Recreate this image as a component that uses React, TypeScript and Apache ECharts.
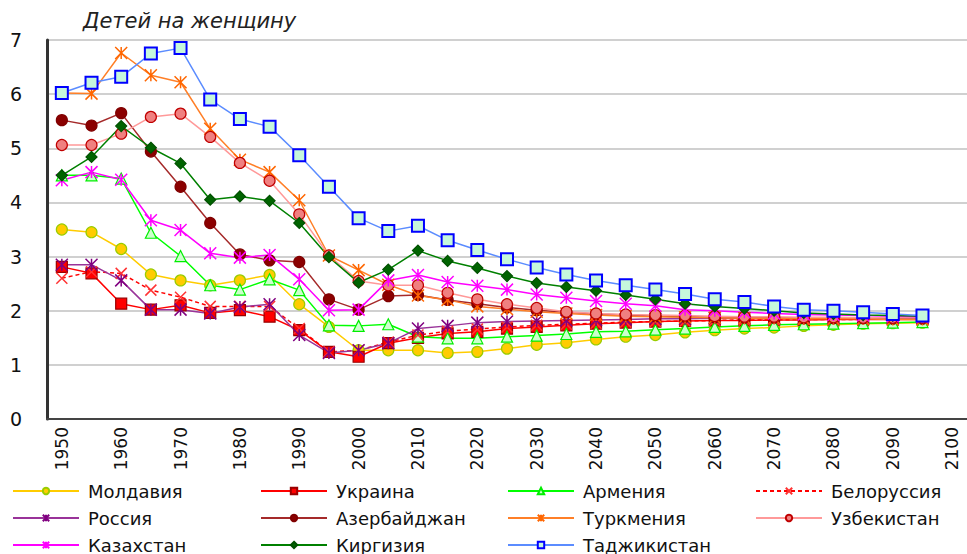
import React, { useEffect, useRef } from "react";
import * as echarts from "echarts";

const years = [
  "1950", "1955", "1960", "1965", "1970", "1975", "1980", "1985", "1990", "1995",
  "2000", "2005", "2010", "2015", "2020", "2025", "2030", "2035", "2040", "2045",
  "2050", "2055", "2060", "2065", "2070", "2075", "2080", "2085", "2090", "2095", "2100",
];

const moldova = [3.50, 3.45, 3.14, 2.67, 2.56, 2.47, 2.56, 2.66, 2.12, 1.70, 1.27, 1.27, 1.27, 1.22, 1.24, 1.30, 1.37, 1.41, 1.47, 1.52, 1.55, 1.60, 1.64, 1.67, 1.69, 1.72, 1.74, 1.76, 1.77, 1.78];
const ukraine = [2.81, 2.69, 2.13, 2.02, 2.10, 1.96, 2.01, 1.89, 1.64, 1.24, 1.15, 1.40, 1.50, 1.58, 1.61, 1.67, 1.70, 1.73, 1.76, 1.78, 1.80, 1.81, 1.82, 1.82, 1.83, 1.83, 1.84, 1.84, 1.84, 1.84];
const armenia = [4.50, 4.50, 4.44, 3.44, 3.01, 2.47, 2.39, 2.58, 2.38, 1.73, 1.72, 1.75, 1.52, 1.49, 1.49, 1.52, 1.54, 1.57, 1.61, 1.62, 1.65, 1.67, 1.70, 1.72, 1.74, 1.75, 1.76, 1.77, 1.78, 1.79];
const belarus = [2.60, 2.72, 2.69, 2.38, 2.25, 2.08, 2.08, 2.08, 1.67, 1.24, 1.27, 1.42, 1.55, 1.62, 1.66, 1.70, 1.73, 1.75, 1.77, 1.79, 1.80, 1.81, 1.82, 1.83, 1.83, 1.84, 1.84, 1.84, 1.85, 1.85];
const russia = [2.85, 2.85, 2.56, 2.02, 2.02, 1.95, 2.07, 2.12, 1.55, 1.22, 1.27, 1.40, 1.67, 1.72, 1.78, 1.80, 1.81, 1.82, 1.83, 1.84, 1.85, 1.85, 1.86, 1.86, 1.86, 1.86, 1.86, 1.86, 1.86, 1.86];
const azerbaijan = [5.52, 5.42, 5.65, 4.94, 4.29, 3.62, 3.04, 2.93, 2.90, 2.21, 2.02, 2.27, 2.29, 2.20, 2.13, 2.06, 2.01, 1.97, 1.94, 1.92, 1.90, 1.89, 1.88, 1.87, 1.87, 1.86, 1.86, 1.86, 1.85, 1.85];
const turkmenia = [6.02, 6.01, 6.76, 6.35, 6.22, 5.36, 4.79, 4.56, 4.04, 3.02, 2.75, 2.48, 2.28, 2.20, 2.08, 2.03, 1.98, 1.95, 1.92, 1.90, 1.89, 1.88, 1.87, 1.86, 1.86, 1.85, 1.85, 1.85, 1.84, 1.84];
const uzbekistan = [5.06, 5.06, 5.27, 5.58, 5.64, 5.21, 4.73, 4.40, 3.78, 3.02, 2.55, 2.47, 2.47, 2.33, 2.21, 2.12, 2.05, 1.98, 1.95, 1.93, 1.92, 1.91, 1.90, 1.89, 1.89, 1.88, 1.88, 1.87, 1.87, 1.87];
const kazakhstan = [4.41, 4.56, 4.42, 3.67, 3.49, 3.06, 2.98, 3.03, 2.58, 2.01, 2.02, 2.56, 2.66, 2.53, 2.46, 2.39, 2.30, 2.24, 2.18, 2.13, 2.09, 2.02, 2.00, 1.97, 1.95, 1.93, 1.92, 1.91, 1.90, 1.89];
const kirgizia = [4.50, 4.84, 5.41, 5.01, 4.72, 4.05, 4.11, 4.03, 3.62, 2.99, 2.52, 2.76, 3.11, 2.92, 2.79, 2.64, 2.51, 2.44, 2.37, 2.29, 2.21, 2.13, 2.08, 2.04, 2.00, 1.96, 1.94, 1.92, 1.91, 1.90];
const tajikistan = [6.02, 6.21, 6.32, 6.75, 6.85, 5.90, 5.54, 5.40, 4.87, 4.29, 3.71, 3.47, 3.57, 3.30, 3.12, 2.95, 2.80, 2.67, 2.56, 2.47, 2.39, 2.31, 2.21, 2.16, 2.08, 2.02, 2.00, 1.97, 1.94, 1.91];

const FONT = "DejaVu Sans";
const STAR = "path://M5,0L5,10M0,0L10,10M0,10L10,0";
const CROSS = "path://M0,0L10,10M0,10L10,0";

type Spec = {
  name: string;
  data: number[];
  line: string;
  symbol: string;
  fill: string;
  border: string;
  size: number;
  dashed?: boolean;
  bw?: number;
};

const specs: Spec[] = [
  { name: "Молдавия", data: moldova, line: "#FFCC00", symbol: "circle", fill: "#FFCC00", border: "#99CC00", size: 11 },
  { name: "Украина", data: ukraine, line: "#FF0000", symbol: "rect", fill: "#FF0000", border: "#990000", size: 11 },
  { name: "Армения", data: armenia, line: "#00FF00", symbol: "triangle", fill: "#CCFFCC", border: "#00EE00", size: 11 },
  { name: "Белоруссия", data: belarus, line: "#FF0000", symbol: CROSS, fill: "#FF3333", border: "#FF3333", size: 11, dashed: true, bw: 1.5 },
  { name: "Россия", data: russia, line: "#993399", symbol: STAR, fill: "#800080", border: "#800080", size: 12, bw: 1.5 },
  { name: "Азербайджан", data: azerbaijan, line: "#A52A2A", symbol: "circle", fill: "#8B0000", border: "#800000", size: 11 },
  { name: "Туркмения", data: turkmenia, line: "#FF7F27", symbol: STAR, fill: "#FF6600", border: "#FF6600", size: 12, bw: 1.5 },
  { name: "Узбекистан", data: uzbekistan, line: "#FF9999", symbol: "circle", fill: "#F08080", border: "#C00000", size: 11 },
  { name: "Казахстан", data: kazakhstan, line: "#FF00FF", symbol: STAR, fill: "#FF00FF", border: "#FF00FF", size: 12, bw: 1.5 },
  { name: "Киргизия", data: kirgizia, line: "#008000", symbol: "diamond", fill: "#006400", border: "#005000", size: 11 },
  { name: "Таджикистан", data: tajikistan, line: "#5B8CFF", symbol: "rect", fill: "#C6F7DC", border: "#0000FF", size: 12, bw: 2 },
];

const legendCols = [12, 260, 507, 755];
const legendRows = [482, 509, 536];

export default function App() {
  const ref = useRef<HTMLDivElement>(null);
  useEffect(() => {
    document.body.style.margin = "0";
    if (!ref.current) return;
    const chart = echarts.init(ref.current, undefined, { renderer: "svg" });
    const series = specs.map((s) => ({
      name: s.name,
      type: "line",
      data: s.data,
      symbol: s.symbol,
      symbolSize: s.size,
      showAllSymbol: true,
      lineStyle: { color: s.line, width: 1.5, type: s.dashed ? [4, 3] : "solid" },
      itemStyle: { color: s.fill, borderColor: s.border, borderWidth: s.bw ?? 1.2 },
      emphasis: { disabled: true },
    }));
    const legends = specs.map((s, i) => ({
      data: [s.name],
      left: legendCols[i % 4],
      top: legendRows[Math.floor(i / 4)],
      itemWidth: 66,
      itemHeight: 8,
      padding: 0,
      textStyle: { fontFamily: FONT, fontSize: 18, color: "#111", padding: [0, 0, 0, 4] },
      selectedMode: false,
    }));
    chart.setOption({
      animation: false,
      backgroundColor: "#fff",
      graphic: [
        {
          type: "text",
          left: 83,
          top: 10,
          style: { text: "Детей на женщину", font: `italic 21px "${FONT}"`, fill: "#222" },
        },
      ],
      grid: { left: 47, right: 0, top: 40, bottom: 135 },
      legend: legends,
      xAxis: {
        type: "category",
        data: years,
        boundaryGap: true,
        axisLine: { show: true, lineStyle: { color: "#444", width: 2 } },
        axisTick: { show: false },
        axisLabel: { interval: 1, rotate: 90, fontFamily: FONT, fontSize: 17, color: "#111", margin: 8 },
        splitLine: { show: false },
      },
      yAxis: {
        type: "value",
        min: 0,
        max: 7,
        interval: 1,
        axisLine: { show: true, lineStyle: { color: "#333", width: 3 } },
        axisTick: { show: false },
        axisLabel: { fontFamily: FONT, fontSize: 19, color: "#111", margin: 25 },
        splitLine: { show: true, lineStyle: { color: "#C0C0C0", width: 1.5 } },
      },
      series,
    });
    return () => chart.dispose();
  }, []);
  return <div ref={ref} style={{ width: 967, height: 554 }} />;
}
